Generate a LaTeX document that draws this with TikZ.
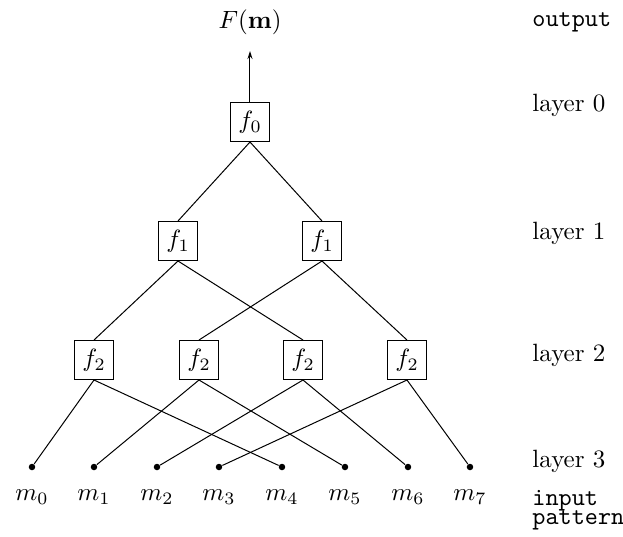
\documentclass[tikz,border=0pt]{standalone}
\usepackage{amsmath}
\usepackage{amssymb}
\usetikzlibrary{arrows.meta}
\begin{document}
\begin{tikzpicture}[x=0.4pt,y=-0.4pt,
		fbox/.style={draw,minimum size=15.6pt,inner sep=0pt},
		dot/.style={circle,fill,inner sep=0pt,minimum size=2.6pt},
		side/.style={anchor=west,inner sep=0pt}]
	\useasboundingbox (0,0) rectangle (623,536);
	% function boxes
	\node[fbox] (f0) at (250,122) {$f_0$};
	\foreach \i/\x in {1/178,2/322}
		\node[fbox] (f1\i) at (\x,241) {$f_1$};
	\foreach \i/\x in {1/94,2/199,3/303,4/407}
		\node[fbox] (f2\i) at (\x,360) {$f_2$};
	% inputs
	\foreach \i/\x in {0/32,1/94,2/157,3/219,4/282,5/345,6/408,7/470}{
		\node[dot] (m\i) at (\x,467) {};
		\node (lm\i) at (\x,497) {$m_\i$};
	}
	\node[inner sep=0pt] (out) at (250,22) {$F(\mathbf{m})$};
	\coordinate (tip) at (250,51);
	\draw[-{Stealth[length=3.2pt,width=2pt]}] (f0.north) -- (tip);
	% connections
	\draw (f0.south) -- (f11.north);
	\draw (f0.south) -- (f12.north);
	\draw (f11.south) -- (f21.north);
	\draw (f11.south) -- (f23.north);
	\draw (f12.south) -- (f22.north);
	\draw (f12.south) -- (f24.north);
	\foreach \i/\a/\b in {1/0/4,2/1/5,3/2/6,4/3/7}{
		\draw (f2\i.south) -- (m\a);
		\draw (f2\i.south) -- (m\b);
	}
	% layer labels
	\node[side,font=\ttfamily] (lout) at (532,22) {output};
	\foreach \k/\y in {0/105,1/233,2/355,3/461}
		\node[side] (lay\k) at (532,\y) {layer \k};
	\node[side,anchor=north west,font=\ttfamily,align=left] (lin) at (532,490) {input\\[-4.5pt]pattern};
\end{tikzpicture}
\end{document}
